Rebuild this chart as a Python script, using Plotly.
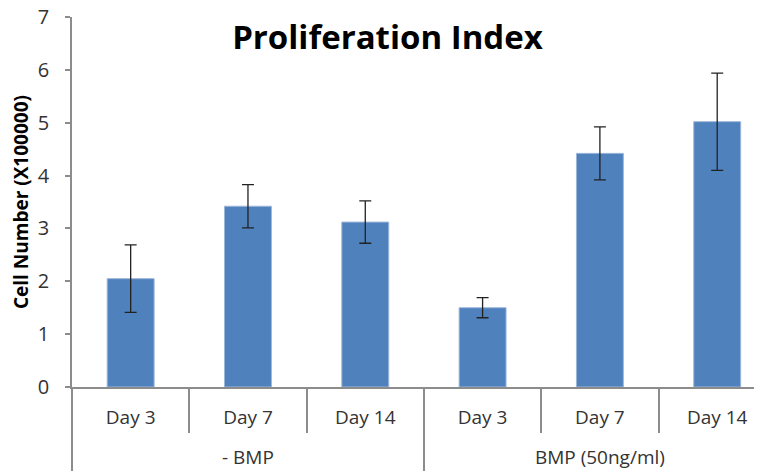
import plotly.graph_objects as go

groups = ["<br>- BMP", "<br>- BMP", "<br>- BMP",
          "<br>BMP (50ng/ml)", "<br>BMP (50ng/ml)", "<br>BMP (50ng/ml)"]
days = ["Day 3", "Day 7", "Day 14", "Day 3", "Day 7", "Day 14"]
values = [2.05, 3.42, 3.12, 1.50, 4.42, 5.02]
errors = [0.64, 0.41, 0.40, 0.19, 0.50, 0.92]

AXIS_COLOR = "#8c8c8c"
FONT = "Open Sans"

fig = go.Figure()
fig.add_trace(go.Bar(
    x=[groups, days],
    y=values,
    width=0.4,
    marker=dict(color="#4f81bd", line=dict(color="#9db6da", width=1)),
    error_y=dict(type="data", array=errors, visible=True, color="#222222",
                 thickness=1.3, width=6),
    showlegend=False,
))

# page body adds an 8px offset, margins compensate for it
fig.update_layout(
    width=762, height=475,
    margin=dict(l=64, r=0, t=9, b=96),
    paper_bgcolor="white", plot_bgcolor="white",
    font=dict(family=FONT, color="#333333", size=18),
    title=dict(text="<b>Proliferation Index</b>", x=0.498, xanchor="center",
               y=0.937, yanchor="middle",
               font=dict(family=FONT, size=33, color="black")),
    bargap=0.6,
)
fig.update_xaxes(
    type="multicategory",
    range=[-0.5, 5.45],
    automargin=False,
    showline=True, linecolor=AXIS_COLOR, linewidth=1.5,
    ticks="outside", ticklen=44, tickcolor=AXIS_COLOR, tickwidth=1.5,
    showdividers=True, dividercolor=AXIS_COLOR, dividerwidth=1.5,
    ticklabelstandoff=12,
    tickfont=dict(family=FONT, size=19, color="#333333"),
    showgrid=False,
)
fig.update_yaxes(
    range=[0, 7], dtick=1,
    automargin=False,
    showline=True, linecolor=AXIS_COLOR, linewidth=1.5,
    ticks="outside", ticklen=5, tickcolor=AXIS_COLOR, tickwidth=1.5,
    ticklabelstandoff=12, ticklabeloverflow="allow",
    showgrid=False, zeroline=False,
    tickfont=dict(family=FONT, size=20, color="#333333"),
    title=dict(text="<b>Cell Number (X100000)</b>", standoff=6,
               font=dict(family=FONT, size=19, color="black")),
)

fig.write_html("out.html")
